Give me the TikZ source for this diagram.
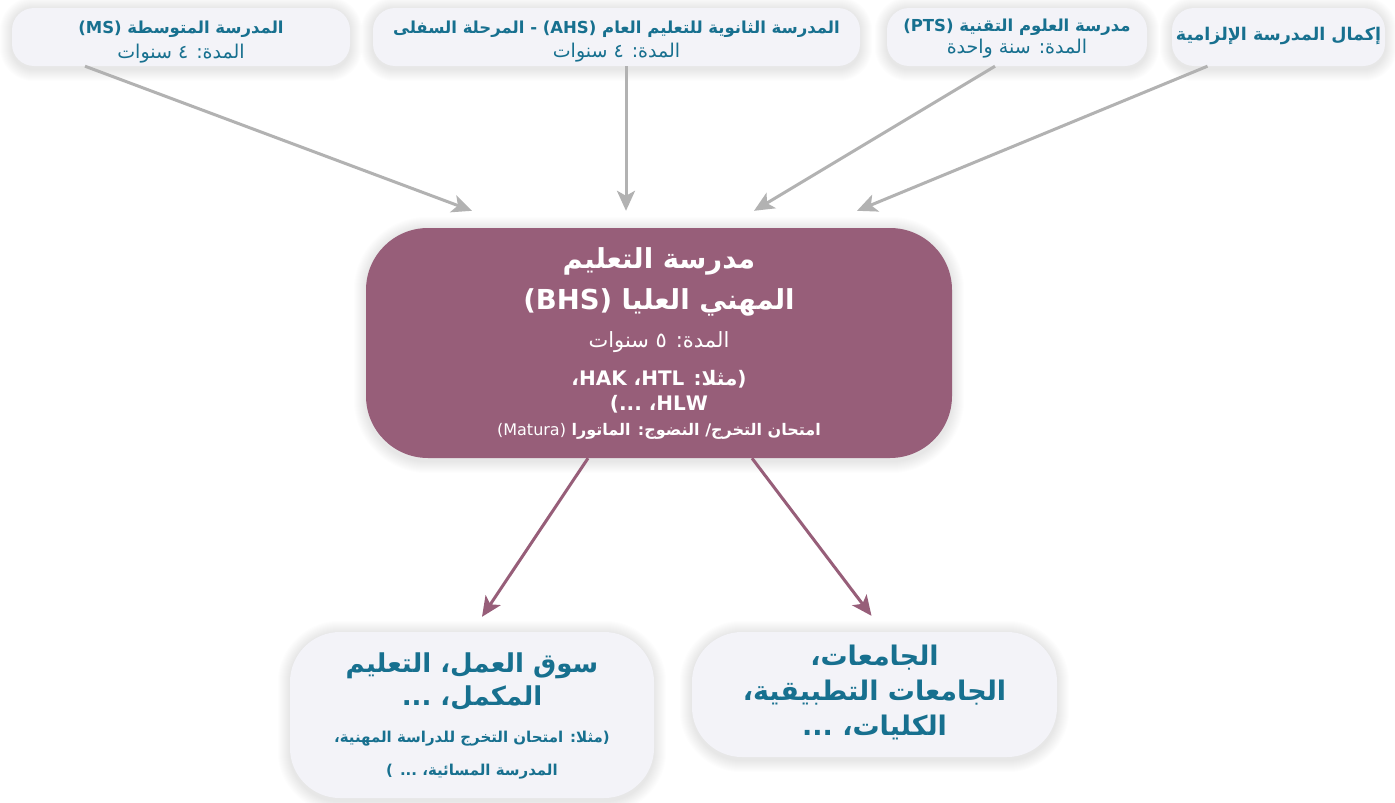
\documentclass[tikz,border=0pt]{standalone}
\usepackage{fontspec}
\TeXXeTstate=1
\newfontfamily\arabicfont[Script=Arabic]{DejaVu Sans}
\usetikzlibrary{calc,arrows.meta,backgrounds}

\definecolor{inktext}{RGB}{23,112,143}
\definecolor{boxfill}{RGB}{243,243,248}
\definecolor{bhsfill}{RGB}{151,94,121}
\definecolor{feedgrey}{RGB}{178,178,178}

% one right-to-left line of Arabic text
\newcommand\artext[1]{{\arabicfont\beginR#1\endR}}
% Latin run inside Arabic text
\newcommand\lat[1]{\beginL#1\endL{}}
% soft glow behind a box: #1 node name, #2 corner radius
\newcommand\boxglow[2]{%
  \foreach \g in {1,...,12}{%
    \fill[black,opacity=0.009,rounded corners=#2+\g pt]
      ($(#1.south west)+(-\g,\g+3)$) rectangle ($(#1.north east)+(\g,-\g+1)$);
  }}

\tikzset{
  topbox/.style={fill=boxfill,rounded corners=22pt,inner sep=0pt},
  outbox/.style={fill=boxfill,rounded corners=50pt,inner sep=0pt},
  mainbox/.style={fill=bhsfill,rounded corners=62pt,inner sep=0pt},
  textline/.style={anchor=base,inner sep=0pt},
  inkline/.style={textline,text=inktext},
  whiteline/.style={textline,text=white},
  feed/.style={draw=feedgrey,line width=3pt,
      -{Stealth[length=20pt,width=18pt,inset=5pt]}},
  leave/.style={draw=bhsfill,line width=3pt,
      -{Stealth[length=20pt,width=18pt,inset=5pt]}},
}

\begin{document}
\begin{tikzpicture}[x=1pt,y=-1pt]
\useasboundingbox (0,0) rectangle (1395,803);

% entry schools
\node[topbox,minimum width=338pt,minimum height=58pt] (ms) at (181,37) {};
\node[inkline,font=\fontsize{16.5}{20}\selectfont\bfseries] (ms-t) at (181,33)
  {\artext{المدرسة المتوسطة \lat{(MS)}}};
\node[inkline,font=\fontsize{19}{22}\selectfont] (ms-d) at (181,58)
  {\artext{المدة: ٤ سنوات}};

\node[topbox,minimum width=487pt,minimum height=58pt] (ahs) at (616.5,37) {};
\node[inkline,font=\fontsize{16.5}{20}\selectfont\bfseries] (ahs-t) at (616.5,33)
  {\artext{المدرسة الثانوية للتعليم العام \lat{(AHS)} - المرحلة السفلى}};
\node[inkline,font=\fontsize{19}{22}\selectfont] (ahs-d) at (616.5,57)
  {\artext{المدة: ٤ سنوات}};

\node[topbox,minimum width=260pt,minimum height=58pt] (pts) at (1017,37) {};
\node[inkline,font=\fontsize{16.5}{20}\selectfont\bfseries] (pts-t) at (1017,31)
  {\artext{مدرسة العلوم التقنية \lat{(PTS)}}};
\node[inkline,font=\fontsize{19}{22}\selectfont] (pts-d) at (1017,53)
  {\artext{المدة: سنة واحدة}};

\node[topbox,minimum width=213pt,minimum height=58pt] (comp) at (1278.5,37) {};
\node[inkline,font=\fontsize{17.5}{20}\selectfont\bfseries] (comp-t) at (1278.5,40)
  {\artext{إكمال المدرسة الإلزامية}};

% the higher vocational school
\node[mainbox,minimum width=586pt,minimum height=230pt] (bhs) at (659,343) {};
\node[whiteline,font=\fontsize{27.5}{30}\selectfont\bfseries] (bhs-t1) at (659,268)
  {\artext{مدرسة التعليم}};
\node[whiteline,font=\fontsize{27.5}{30}\selectfont\bfseries] (bhs-t2) at (659,309)
  {\artext{المهني العليا \lat{(BHS)}}};
\node[whiteline,font=\fontsize{21}{24}\selectfont] (bhs-d) at (659,347)
  {\artext{المدة: ٥ سنوات}};
\node[whiteline,font=\fontsize{20}{22}\selectfont\bfseries] (bhs-e1) at (659,385)
  {\artext{(مثلا: \lat{HTL}، \lat{HAK}،}};
\node[whiteline,font=\fontsize{20}{22}\selectfont\bfseries] (bhs-e2) at (659,410)
  {\artext{\lat{HLW}، ...)}};
\node[whiteline,font=\fontsize{16}{18}\selectfont\bfseries] (bhs-m) at (659,435)
  {\artext{امتحان التخرج/ النضوج: الماتورا \lat{\mdseries(Matura)}}};

% where it leads
\node[outbox,minimum width=364pt,minimum height=166pt] (lab) at (472,715) {};
\node[inkline,font=\fontsize{26}{30}\selectfont\bfseries] (lab-t1) at (472,672)
  {\artext{سوق العمل، التعليم}};
\node[inkline,font=\fontsize{26}{30}\selectfont\bfseries] (lab-t2) at (472,705)
  {\artext{المكمل، ...}};
\node[inkline,font=\fontsize{15}{18}\selectfont\bfseries] (lab-e1) at (472,742)
  {\artext{(مثلا: امتحان التخرج للدراسة المهنية،}};
\node[inkline,font=\fontsize{15}{18}\selectfont\bfseries] (lab-e2) at (472,775)
  {\artext{المدرسة المسائية، ... )}};

\node[outbox,minimum width=365pt,minimum height=125pt] (uni) at (874.5,694.5) {};
\node[inkline,font=\fontsize{27}{30}\selectfont\bfseries] (uni-1) at (874.5,665)
  {\artext{الجامعات،}};
\node[inkline,font=\fontsize{27}{30}\selectfont\bfseries] (uni-2) at (874.5,700)
  {\artext{الجامعات التطبيقية،}};
\node[inkline,font=\fontsize{27}{30}\selectfont\bfseries] (uni-3) at (874.5,735)
  {\artext{الكليات، ...}};

% page background and the soft glow around each box
\begin{scope}[on background layer]
  \fill[white] (0,0) rectangle (1395,803);
  \boxglow{ms}{22}
  \boxglow{ahs}{22}
  \boxglow{pts}{22}
  \boxglow{comp}{22}
  \boxglow{bhs}{62}
  \boxglow{lab}{50}
  \boxglow{uni}{50}
\end{scope}

% arrow tips stop short of the boxes
\coordinate (inms)   at ($(bhs.north)+(-187,-17)$);
\coordinate (inahs)  at ($(bhs.north)+(-33,-17)$);
\coordinate (inpts)  at ($(bhs.north)+(95,-17)$);
\coordinate (incomp) at ($(bhs.north)+(198,-17)$);
\coordinate (inlab)  at ($(lab.north)+(10,-15)$);
\coordinate (inuni)  at ($(uni.north)+(-3,-16)$);

\draw[feed] ($(ms.south)+(-96,0)$) -- (inms);
\draw[feed] ($(ahs.south)+(9.5,0)$) -- (inahs);
\draw[feed] ($(pts.south)+(-22,0)$) -- (inpts);
\draw[feed] ($(comp.south)+(-71,0)$) -- (incomp);
\draw[leave] ($(bhs.south)+(-71,0)$) -- (inlab);
\draw[leave] ($(bhs.south)+(93,0)$) -- (inuni);
\end{tikzpicture}
\end{document}
